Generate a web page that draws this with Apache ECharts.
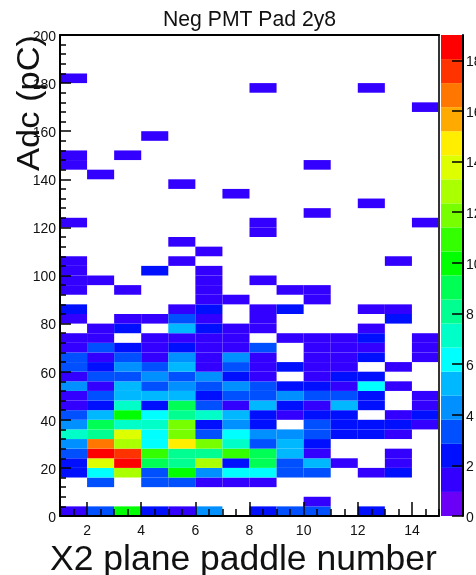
<!DOCTYPE html>
<html><head><meta charset="utf-8">
<style>html,body{margin:0;padding:0;background:#fff}#c{width:476px;height:575px}</style>
<script src="https://cdn.jsdelivr.net/npm/echarts@6/dist/echarts.min.js"></script>
</head><body><div id="c"></div>
<script>
const titleText = 'Neg PMT Pad 2y8';
const xTitle = 'X2 plane paddle number';
const yTitle = 'Adc (pC)';
const binWidth = 4;
const zMax = 19;
const firstPaddle = 1;
const xTickLabels = [2,4,6,8,10,12,14];
// counts per Adc bin (row), one entry per paddle 1..14
const r00=[1,3,10,2,1,4,0,2,3,3,0,2,0,0];
const r01=[0,0,0,0,0,0,0,0,0,1,0,0,0,0];
const r02=[0,0,0,0,0,0,0,0,0,0,0,0,0,0];
const r03=[0,3,0,3,3,1,1,1,0,0,0,0,0,0];
const r04=[2,6,13,3,10,4,6,6,3,3,0,1,2,0];
const r05=[2,14,19,9,8,13,2,9,3,5,1,0,1,0];
const r06=[3,19,18,11,8,8,11,9,5,1,0,0,1,0];
const r07=[4,17,13,6,15,12,7,3,5,2,0,0,0,0];
const r08=[7,8,14,6,12,3,6,4,4,3,2,2,1,0];
const r09=[4,9,7,7,12,2,4,2,0,3,2,2,2,1];
const r10=[3,5,10,6,8,7,5,2,1,2,2,0,1,2];
const r11=[1,2,7,2,9,3,1,5,2,1,5,2,0,1];
const r12=[1,3,5,5,5,2,3,3,4,3,3,2,0,1];
const r13=[4,1,5,3,4,3,4,3,2,2,1,6,1,0];
const r14=[1,3,3,4,3,4,2,1,0,1,2,2,0,0];
const r15=[3,2,4,3,5,1,3,1,2,1,1,0,1,0];
const r16=[3,1,3,1,4,1,4,1,0,1,1,2,0,1];
const r17=[1,3,2,1,2,1,1,3,0,1,1,1,0,1];
const r18=[1,1,0,1,1,1,1,0,1,1,1,2,0,1];
const r19=[0,1,2,0,5,2,1,1,0,0,0,1,0,0];
const r20=[1,0,1,1,3,1,0,1,0,0,0,0,2,0];
const r21=[2,0,0,0,1,2,0,1,2,0,0,1,1,0];
const r22=[0,0,0,0,0,1,1,0,0,1,0,0,0,0];
const r23=[1,0,1,0,0,1,0,0,1,1,0,0,0,0];
const r24=[1,1,0,0,0,1,0,1,0,0,0,0,0,0];
const r25=[1,0,0,2,0,1,0,0,0,0,0,0,0,0];
const r26=[1,0,0,0,1,0,0,0,0,0,0,0,1,0];
const r27=[0,0,0,0,0,1,0,0,0,0,0,0,0,0];
const r28=[0,0,0,0,1,0,0,0,0,0,0,0,0,0];
const r29=[0,0,0,0,0,0,0,1,0,0,0,0,0,0];
const r30=[1,0,0,0,0,0,0,1,0,0,0,0,0,1];
const r31=[0,0,0,0,0,0,0,0,0,1,0,0,0,0];
const r32=[0,0,0,0,0,0,0,0,0,0,0,1,0,0];
const r33=[0,0,0,0,0,0,1,0,0,0,0,0,0,0];
const r34=[0,0,0,0,1,0,0,0,0,0,0,0,0,0];
const r35=[0,1,0,0,0,0,0,0,0,0,0,0,0,0];
const r36=[1,0,0,0,0,0,0,0,0,1,0,0,0,0];
const r37=[1,0,1,0,0,0,0,0,0,0,0,0,0,0];
const r38=[0,0,0,0,0,0,0,0,0,0,0,0,0,0];
const r39=[0,0,0,1,0,0,0,0,0,0,0,0,0,0];
const r40=[0,0,0,0,0,0,0,0,0,0,0,0,0,0];
const r41=[0,0,0,0,0,0,0,0,0,0,0,0,0,0];
const r42=[0,0,0,0,0,0,0,0,0,0,0,0,0,1];
const r43=[0,0,0,0,0,0,0,0,0,0,0,0,0,0];
const r44=[0,0,0,0,0,0,0,1,0,0,0,1,0,0];
const r45=[1,0,0,0,0,0,0,0,0,0,0,0,0,0];
const rows=[r00,r01,r02,r03,r04,r05,r06,r07,r08,r09,r10,r11,r12,r13,r14,r15,r16,r17,r18,r19,r20,r21,r22,r23,r24,r25,r26,r27,r28,r29,r30,r31,r32,r33,r34,r35,r36,r37,r38,r39,r40,r41,r42,r43,r44,r45];
const palette=['#6A00F5','#3300FF','#0010FF','#0050FF','#0090FF','#00B8FF','#00FFFF','#00FFC8','#00FF90','#00FF55','#00FF00','#33FF00','#77FF00','#AAFF00','#DDFF00','#FFEE00','#FFAA00','#FF7700','#FF3300','#FF0000'];

const levelWidth = zMax / palette.length;
const colorOf = v => palette[Math.min(palette.length - 1, Math.floor(v / levelWidth))];
const cells = [];
rows.forEach((row, r) => row.forEach((v, c) => { if (v > 0) cells.push([firstPaddle + c, r * binWidth, v]); }));
const bands = palette.map((col, i) => [i * levelWidth, (i + 1) * levelWidth, i]);

const font = '"Liberation Sans", Arial, sans-serif';
const ink = '#000';
const chart = echarts.init(document.getElementById('c'), null, {renderer: 'canvas'});
chart.setOption({
  animation: false,
  backgroundColor: '#fff',
  grid: [
    {left: 60, top: 35, width: 379, height: 481, containLabel: false, outerBoundsMode: 'none'},
    {left: 441, top: 35, width: 22, height: 481, containLabel: false, outerBoundsMode: 'none'}
  ],
  xAxis: [
    {type: 'value', gridIndex: 0, min: 1, max: 15, interval: 1, z: 10, position: 'bottom',
     axisLine: {show: true, onZero: false, lineStyle: {color: ink, width: 2}},
     axisTick: {show: true, inside: true, length: 14, lineStyle: {color: ink, width: 1.5}, customValues: xTickLabels},
     splitLine: {show: false},
     axisLabel: {show: true, margin: 8, fontSize: 14, fontFamily: font, color: '#111', customValues: xTickLabels}},
    {type: 'value', gridIndex: 1, min: 0, max: 1, show: false},
    {type: 'value', gridIndex: 0, position: 'top', min: 1, max: 15, z: 10,
     axisLine: {show: true, onZero: false, lineStyle: {color: ink, width: 2}},
     axisTick: {show: false}, axisLabel: {show: false}, splitLine: {show: false}},
    {type: 'value', gridIndex: 0, position: 'bottom', min: 1, max: 15, interval: 0.5, z: 10,
     axisLine: {show: false, onZero: false},
     axisTick: {show: true, inside: true, length: 7, lineStyle: {color: ink, width: 1.5}},
     axisLabel: {show: false}, splitLine: {show: false}}
  ],
  yAxis: [
    {type: 'value', gridIndex: 0, min: 0, max: 200, interval: 20, z: 10,
     axisLine: {show: true, onZero: false, lineStyle: {color: ink, width: 2}},
     axisTick: {show: true, inside: true, length: 11, lineStyle: {color: ink, width: 1.5}},
     minorTick: {show: true, splitNumber: 5, length: 6, lineStyle: {color: ink, width: 1.5}},
     splitLine: {show: false},
     axisLabel: {show: true, margin: 4, fontSize: 14, fontFamily: font, color: '#111', verticalAlign: 'top', lineHeight: 4}},
    {type: 'value', gridIndex: 1, position: 'right', min: 0, max: zMax, interval: 2, z: 10,
     axisLine: {show: true, onZero: false, lineStyle: {color: ink, width: 2}},
     axisTick: {show: true, inside: true, length: 11, lineStyle: {color: ink, width: 1.5}},
     splitLine: {show: false},
     axisLabel: {show: true, margin: 3, fontSize: 14, fontFamily: font, color: '#111', showMaxLabel: false, verticalAlign: 'top', lineHeight: 4}},
    {type: 'value', gridIndex: 0, position: 'right', min: 0, max: 200, z: 10,
     axisLine: {show: true, onZero: false, lineStyle: {color: '#333', width: 2}},
     axisTick: {show: false}, axisLabel: {show: false}, splitLine: {show: false}}
  ],
  series: [
    {type: 'custom', xAxisIndex: 0, yAxisIndex: 0, data: cells, encode: {x: 0, y: 1},
     clip: true, silent: true,
     renderItem: (params, api) => {
       const x = api.value(0), y = api.value(1), v = api.value(2);
       const a = api.coord([x, y + binWidth]), b = api.coord([x + 1, y]);
       return {type: 'rect', shape: {x: a[0], y: a[1], width: b[0] - a[0], height: b[1] - a[1]}, style: {fill: colorOf(v)}};
     }},
    {type: 'custom', xAxisIndex: 1, yAxisIndex: 1, data: bands, encode: {y: [0, 1]},
     silent: true,
     renderItem: (params, api) => {
       const lo = api.value(0), hi = api.value(1), i = api.value(2);
       const a = api.coord([0, hi]), b = api.coord([1, lo]);
       return {type: 'rect', shape: {x: a[0], y: a[1], width: b[0] - a[0], height: b[1] - a[1]}, style: {fill: palette[i]}};
     }}
  ],
  graphic: [
    {type: 'text', left: 163, top: 10, style: {text: titleText, font: '21.2px ' + font, fill: '#111'}},
    {type: 'text', left: 50, top: 542, style: {text: xTitle, font: '35.5px ' + font, fill: '#111'}},
    {type: 'text', x: 15, y: 171, rotation: Math.PI / 2, scaleY: 0.9, style: {text: yTitle, font: '34.5px ' + font, fill: '#111', textAlign: 'left', textVerticalAlign: 'top'}}
  ]
});
</script></body></html>
